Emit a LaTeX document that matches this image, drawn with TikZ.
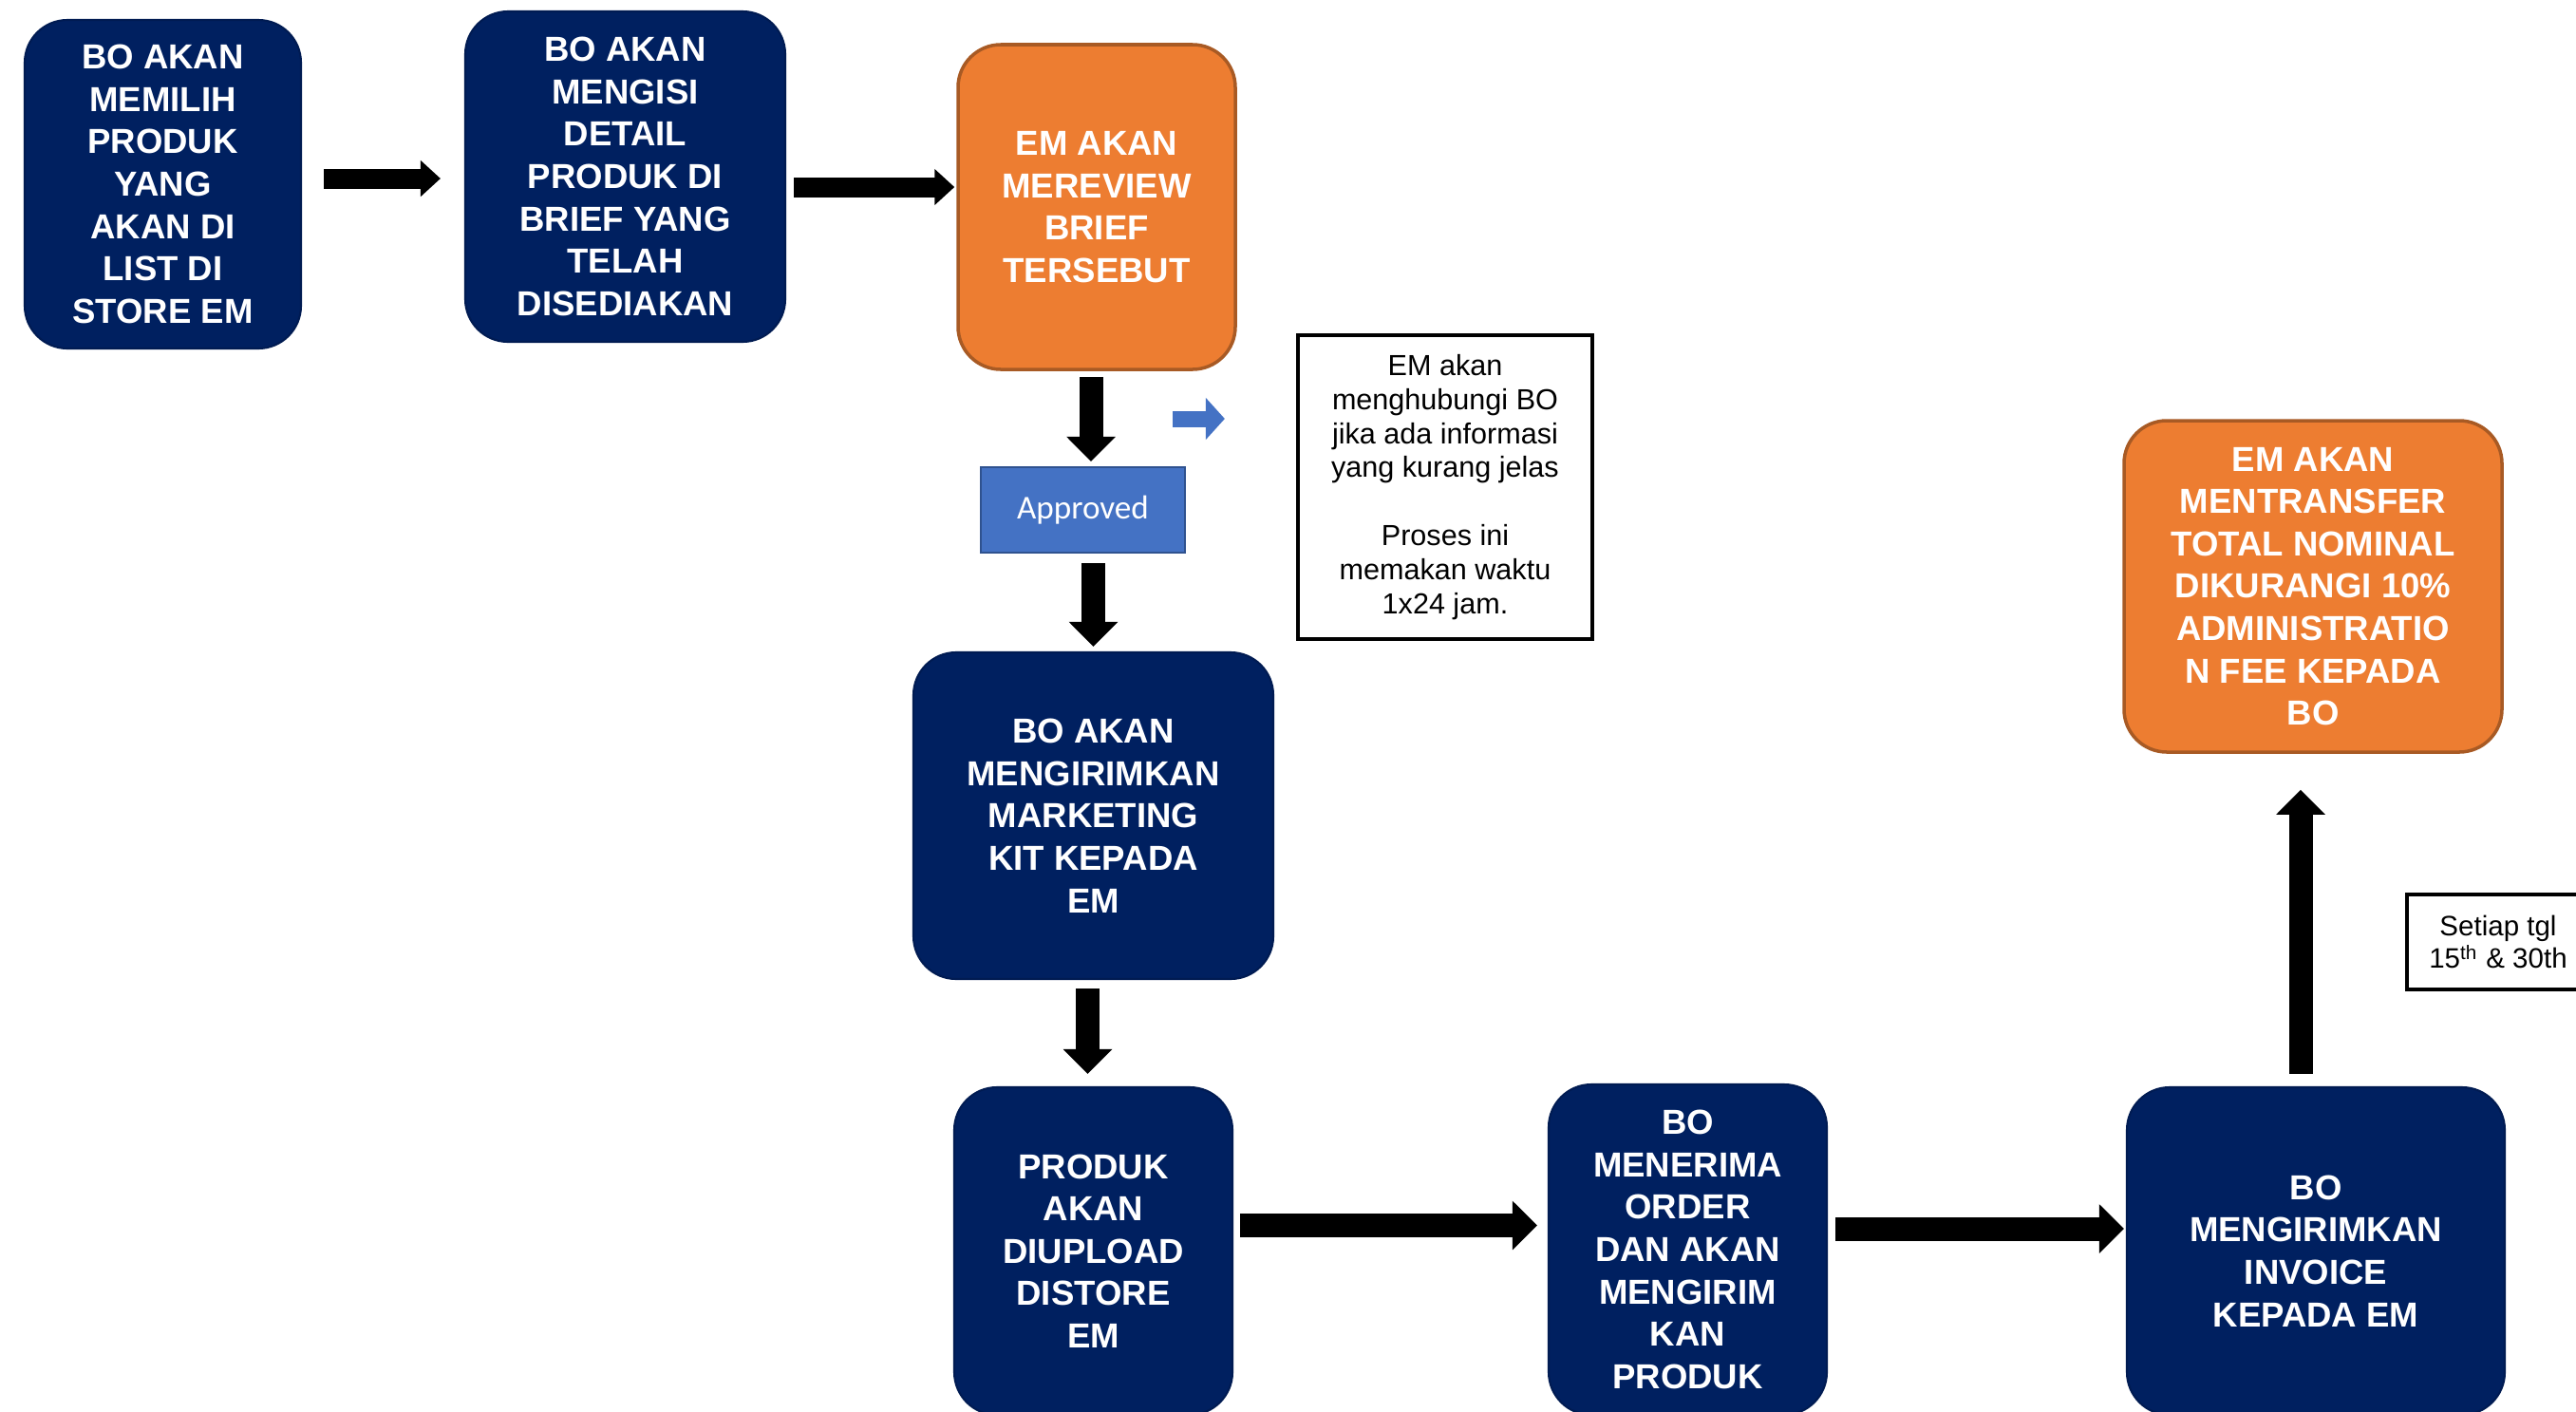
\documentclass[tikz,border=0pt]{standalone}
\usepackage{fontspec}
\setmainfont{Liberation Sans}
\newfontfamily\approvedfont{Carlito}
\usetikzlibrary{arrows.meta,positioning,calc}

\definecolor{boblue}{HTML}{002060}
\definecolor{emorange}{HTML}{ED7D31}
\definecolor{emborder}{HTML}{A85A24}
\definecolor{okblue}{HTML}{4472C4}
\definecolor{okborder}{HTML}{2F528F}

\tikzset{
  bobox/.style={rectangle, rounded corners=0.45cm, fill=boblue, draw=boblue!85!black, line width=0.6pt,
    text=white, align=center, inner sep=0pt, font=\bfseries\fontsize{10.4}{12.7}\selectfont},
  embox/.style={bobox, fill=emorange, draw=emborder, line width=1pt},
  approvedbox/.style={rectangle, fill=okblue, draw=okborder, line width=0.6pt, text=white,
    inner sep=0pt, font=\approvedfont\fontsize{10}{12}\selectfont},
  notebox/.style={rectangle, draw=black, line width=1.2pt, fill=white, align=center, inner sep=0pt,
    font=\fontsize{8.7}{10.2}\selectfont},
  flow/.style={line width=0.25cm, -{Triangle[length=0.26cm,width=0.5cm]}},
  flowtop/.style={line width=0.21cm, -{Triangle[length=0.21cm,width=0.37cm]}},
  hintarrow/.style={okblue, line width=0.17cm, -{Triangle[length=0.2cm,width=0.43cm]}}
}

\begin{document}
\begin{tikzpicture}
        \path[use as bounding box, fill=white] (0,0) rectangle (27.13,-14.86);

        % top row
        \node[bobox, minimum width=2.91cm, minimum height=3.46cm] (pilih) at (1.715,-1.94)
            {BO AKAN\\MEMILIH\\PRODUK\\YANG\\AKAN DI\\LIST DI\\STORE EM};
        \node[bobox, minimum width=3.37cm, minimum height=3.48cm] (isi) at (6.585,-1.86)
            {BO AKAN\\MENGISI\\DETAIL\\PRODUK DI\\BRIEF YANG\\TELAH\\DISEDIAKAN};
        \node[embox, minimum width=2.92cm, minimum height=3.42cm] (review) at (11.55,-2.18)
            {EM AKAN\\MEREVIEW\\BRIEF\\TERSEBUT};

        % approval and note
        \node[approvedbox, minimum width=2.15cm, minimum height=0.9cm] (approved) at (11.405,-5.37) {Approved};
        \node[notebox, minimum width=3.10cm, minimum height=3.20cm] (note) at (15.22,-5.13)
            {EM akan\\menghubungi BO\\jika ada informasi\\yang kurang jelas\\[10.2pt]Proses ini\\memakan waktu\\1x24 jam.};
        \coordinate (hint) at (12.35,-4.41);

        % middle column
        \node[bobox, minimum width=3.79cm, minimum height=3.44cm] (kit) at (11.515,-8.59)
            {BO AKAN\\MENGIRIMKAN\\MARKETING\\KIT KEPADA\\EM};

        % bottom row
        \node[bobox, minimum width=2.93cm, minimum height=3.45cm] (upload) at (11.515,-13.175)
            {PRODUK\\AKAN\\DIUPLOAD\\DISTORE\\EM};
        \node[bobox, minimum width=2.93cm, minimum height=3.48cm] (order) at (17.775,-13.16)
            {BO\\MENERIMA\\ORDER\\DAN AKAN\\MENGIRIM\\KAN\\PRODUK};
        \node[bobox, minimum width=3.98cm, minimum height=3.45cm] (invoice) at (24.39,-13.175)
            {BO\\MENGIRIMKAN\\INVOICE\\KEPADA EM};

        % right column
        \node[embox, minimum width=3.98cm, minimum height=3.49cm] (transfer) at (24.36,-6.175)
            {EM AKAN\\MENTRANSFER\\TOTAL NOMINAL\\DIKURANGI 10\%\\ADMINISTRATIO\\N FEE KEPADA\\BO};
        \node[notebox, line width=1pt, minimum width=1.92cm, minimum height=1.0cm, font=\fontsize{8.4}{9.9}\selectfont]
            (tanggal) at (26.31,-9.92) {Setiap tgl\\15\textsuperscript{th} \& 30th};

        % arrows of the top row
        \draw[flowtop, shorten <=0.23cm, shorten >=0.25cm] ([yshift=0.06cm]pilih.east) -- ([yshift=0.06cm]pilih.east -| isi.west);
        \draw[flowtop, shorten <=0.08cm, shorten >=0.02cm] ([yshift=-0.11cm]isi.east) -- ([yshift=-0.11cm]isi.east -| review.west);

        % arrows down the middle
        \draw[flow, shorten <=0.06cm, shorten >=0.05cm] ([xshift=-0.06cm]review.south) -- ([xshift=-0.06cm]review.south |- approved.north);
        \draw[flow, shorten <=0.10cm, shorten >=0.05cm] (approved.south -| kit.north) -- (kit.north);
        \draw[flow, shorten <=0.09cm, shorten >=0.13cm] ([xshift=-0.06cm]kit.south) -- ([xshift=-0.06cm]upload.north);
        \draw[hintarrow, shorten >=0.75cm] (hint) -- (hint -| note.west);

        % arrows of the bottom row
        \draw[flow, shorten <=0.07cm, shorten >=0.11cm] ([yshift=0.27cm]upload.east) -- ([yshift=0.27cm]upload.east -| order.west);
        \draw[flow, shorten <=0.08cm, shorten >=0.02cm] ([yshift=0.22cm]order.east) -- ([yshift=0.22cm]order.east -| invoice.west);
        \draw[flow, shorten <=0.13cm, shorten >=0.38cm] ([xshift=-0.16cm]invoice.north) -- ([xshift=-0.16cm]invoice.north |- transfer.south);

\end{tikzpicture}
\end{document}
